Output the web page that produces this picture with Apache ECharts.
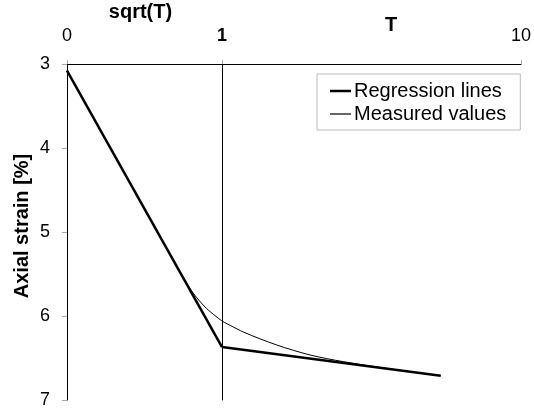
<!DOCTYPE html>
<html>
<head>
<meta charset="utf-8">
<script src="https://cdn.jsdelivr.net/npm/echarts@6/dist/echarts.min.js"></script>
<style>html,body{margin:0;padding:0;background:#fff}#c{width:534px;height:410px}</style>
</head>
<body>
<div id="c"></div>
<script>
// Left part: x = sqrt(T), linear 0..1
const regSqrtX = [0, 1];
const regSqrtY = [3.08, 6.37];
const measSqrtX = [0, 0.71, 0.76, 0.815, 0.9, 1];
const measSqrtY = [3.08, 5.42, 5.57, 5.73, 5.91, 6.06];
// Right part: x = T, log 1..10
const regLogT = [1, 5.39];
const regLogY = [6.37, 6.71];
const measLogT = [1, 1.178, 1.524, 1.97, 2.55, 3.65, 5.39];
const measLogY = [6.06, 6.19, 6.345, 6.464, 6.544, 6.63, 6.71];
const yTicks = [3, 4, 5, 6, 7];
const seriesNames = ['Regression lines', 'Measured values'];

const FONT = 'Liberation Sans, Arial, sans-serif';
const pair = (xs, ys) => xs.map((x, i) => [x, ys[i]]);

const chart = echarts.init(document.getElementById('c'), null, {renderer: 'canvas'});
chart.setOption({
  animation: false,
  backgroundColor: '#fff',
  textStyle: {fontFamily: FONT},
  grid: [
    {left: 67, top: 64, width: 155, height: 336, containLabel: false, outerBoundsMode: 'none'},
    {left: 222, top: 64, width: 299, height: 336, containLabel: false, outerBoundsMode: 'none'}
  ],
  xAxis: [
    {
      type: 'value', gridIndex: 0, min: 0, max: 1, interval: 1, position: 'top',
      name: 'sqrt(T)', nameLocation: 'middle', nameGap: 34,
      nameTextStyle: {fontFamily: FONT, fontSize: 20, fontWeight: 'bold', color: '#000', padding: [0, 8, 0, 0]},
      axisLine: {show: true, lineStyle: {color: '#000', width: 1}},
      axisTick: {show: true, inside: false, length: 4, lineStyle: {color: '#aaa'}},
      axisLabel: {
        show: true, margin: 19, fontFamily: FONT, fontSize: 18, color: '#000',
        formatter: v => v === 1 ? '{b|1}' : String(v),
        rich: {b: {fontWeight: 'bold', fontSize: 18, fontFamily: FONT, color: '#000'}}
      },
      splitLine: {show: false}
    },
    {
      type: 'log', logBase: 10, gridIndex: 1, min: 1, max: 10, position: 'top',
      axisLine: {show: true, lineStyle: {color: '#000', width: 1}},
      axisTick: {show: true, inside: false, length: 4, lineStyle: {color: '#aaa'}},
      axisLabel: {show: true, showMinLabel: false, margin: 19, fontFamily: FONT, fontSize: 18, color: '#000'},
      splitLine: {show: false}
    }
  ],
  yAxis: [
    {
      type: 'value', gridIndex: 0, min: 3, max: 7, interval: 1, inverse: true,
      name: 'Axial strain [%]', nameLocation: 'middle', nameGap: 35, nameRotate: 90,
      nameTextStyle: {fontFamily: FONT, fontSize: 20, fontWeight: 'bold', color: '#000', padding: [0, 0, 0, 12]},
      axisLine: {show: true, lineStyle: {color: '#000', width: 1}},
      axisTick: {show: true, inside: false, length: 5, lineStyle: {color: '#aaa'}},
      axisLabel: {show: true, margin: 17, fontFamily: FONT, fontSize: 18, color: '#000'},
      splitLine: {show: false}
    },
    {
      type: 'value', gridIndex: 1, min: 3, max: 7, interval: 1, inverse: true,
      axisLine: {show: true, lineStyle: {color: '#000', width: 1}},
      axisTick: {show: false}, axisLabel: {show: false}, splitLine: {show: false}
    }
  ],
  legend: {
    data: [
      {name: seriesNames[0], icon: 'path://M0,0H21V2.5H0Z'},
      {name: seriesNames[1], icon: 'path://M0,0H21V1.2H0Z'}
    ],
    orient: 'vertical', left: 317, top: 74,
    backgroundColor: '#fff',
    borderColor: '#bbb', borderWidth: 1, borderRadius: 0,
    padding: [7, 14, 6, 13],
    itemGap: 3, itemWidth: 21, itemHeight: 10,
    selectedMode: false,
    itemStyle: {color: '#000', borderWidth: 0},
    textStyle: {fontFamily: FONT, fontSize: 20, color: '#000', padding: [0, 0, 0, -2]}
  },
  graphic: [
    {type: 'text', left: 385, top: 15, style: {text: 'T', font: 'bold 20px ' + FONT, fill: '#000'}}
  ],
  series: [
    {name: seriesNames[1], type: 'line', xAxisIndex: 0, yAxisIndex: 0, data: pair(measSqrtX, measSqrtY),
     smooth: 0.3, symbol: 'none', itemStyle: {color: '#000'}, lineStyle: {color: '#000', width: 1}, z: 2},
    {name: seriesNames[1], type: 'line', xAxisIndex: 1, yAxisIndex: 1, data: pair(measLogT, measLogY),
     smooth: 0.3, symbol: 'none', itemStyle: {color: '#000'}, lineStyle: {color: '#000', width: 1}, z: 2},
    {name: seriesNames[0], type: 'line', xAxisIndex: 0, yAxisIndex: 0, data: pair(regSqrtX, regSqrtY),
     symbol: 'none', itemStyle: {color: '#000'}, lineStyle: {color: '#000', width: 2.5}, z: 3},
    {name: seriesNames[0], type: 'line', xAxisIndex: 1, yAxisIndex: 1, data: pair(regLogT, regLogY),
     symbol: 'none', itemStyle: {color: '#000'}, lineStyle: {color: '#000', width: 2.5}, z: 3}
  ]
});
</script>
</body>
</html>
